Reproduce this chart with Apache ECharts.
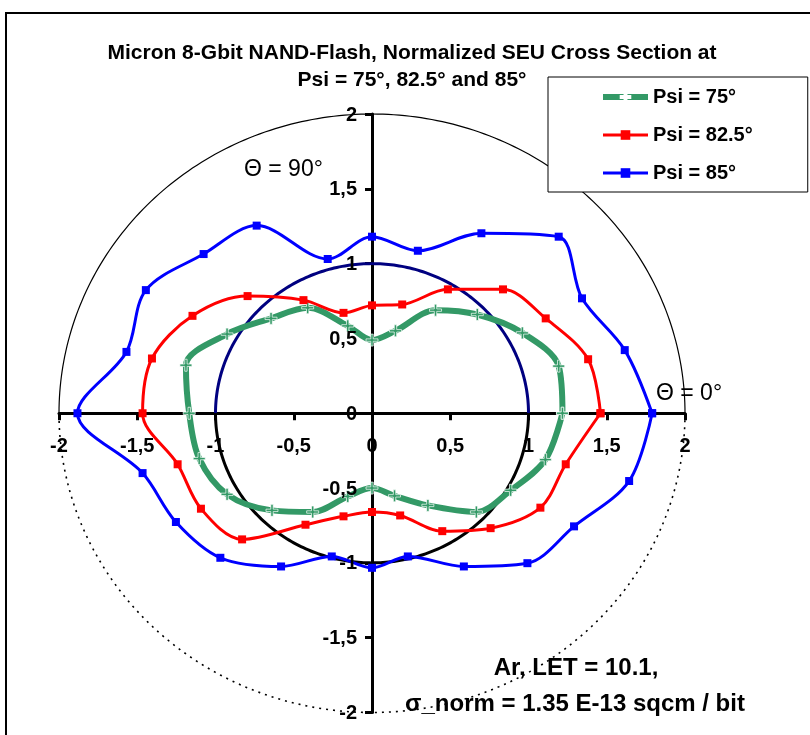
<!DOCTYPE html>
<html>
<head>
<meta charset="utf-8">
<script src="https://cdn.jsdelivr.net/npm/echarts@6/dist/echarts.min.js"></script>
<style>
html,body{margin:0;padding:0;background:#fff;}
#c{width:810px;height:735px;}
</style>
</head>
<body>
<div id="c"></div>
<script>
// ---- data ----
const seriesNames = ['Psi = 75°', 'Psi = 82.5°', 'Psi = 85°'];

const psi75X = [1.217, 1.193, 0.961, 0.673, 0.406, 0.15, 0, -0.155, -0.411, -0.645, -0.926, -1.189, -1.168,
                -1.104, -0.926, -0.639, -0.379, -0.155, 0, 0.144, 0.357, 0.667, 0.886, 1.108, 1.217];
const psi75Y = [0, 0.315, 0.537, 0.66, 0.689, 0.551, 0.489, 0.584, 0.705, 0.634, 0.529, 0.321, 0,
                -0.303, -0.542, -0.649, -0.66, -0.556, -0.5, -0.552, -0.616, -0.66, -0.515, -0.31, 0];

const psi825X = [1.46, 1.381, 1.11, 0.837, 0.485, 0.193, 0, -0.182, -0.438, -0.795, -1.147, -1.406, -1.466,
                 -1.242, -1.093, -0.83, -0.425, -0.182, 0, 0.18, 0.449, 0.758, 1.076, 1.238, 1.46];
const psi825Y = [0, 0.361, 0.634, 0.828, 0.828, 0.727, 0.721, 0.671, 0.756, 0.783, 0.651, 0.366, 0,
                 -0.341, -0.638, -0.843, -0.745, -0.689, -0.66, -0.683, -0.788, -0.768, -0.631, -0.341, 0];

const psi85X = [1.79, 1.615, 1.342, 1.193, 0.699, 0.293, 0, -0.283, -0.737, -1.076, -1.445, -1.569, -1.882,
                -1.466, -1.253, -0.969, -0.581, -0.257, 0, 0.229, 0.587, 0.993, 1.291, 1.643, 1.79];
const psi85Y = [0, 0.422, 0.768, 1.18, 1.203, 1.086, 1.18, 1.031, 1.254, 1.064, 0.823, 0.41, 0,
                -0.4, -0.727, -0.966, -1.024, -0.957, -1.033, -0.957, -1.024, -1.002, -0.756, -0.453, 0];

// reference circles: radius and half (1 = upper, -1 = lower)
const circleRadius = [1, 1, 2, 2];
const circleHalf = [1, -1, 1, -1];

const tickValues = [-2, -1.5, -1, -0.5, 0, 0.5, 1, 1.5, 2];
const tickLabels = ['-2', '-1,5', '-1', '-0,5', '0', '0,5', '1', '1,5', '2'];

// ---- styles ----
const FONT = 'Liberation Sans, Arial, Helvetica, sans-serif';
const circleStyles = [
  {stroke: '#000080', lineWidth: 3},
  {stroke: '#000000', lineWidth: 3},
  {stroke: '#000000', lineWidth: 1.2},
  {stroke: '#000000', lineWidth: 1.6, lineDash: [2, 5]}
];

function pairs(xs, ys) { return xs.map((x, i) => [x, ys[i]]); }

const circleSeries = circleRadius.map((r, k) => ({
  type: 'custom',
  coordinateSystem: 'cartesian2d',
  silent: true,
  z: 1,
  data: [[r, circleHalf[k]]],
  renderItem: function (params, api) {
    const rad = api.value(0), s = api.value(1);
    const pts = [];
    for (let a = 0; a <= 180; a += 1) {
      const t = a * Math.PI / 180;
      pts.push(api.coord([rad * Math.cos(t), s * rad * Math.sin(t)]));
    }
    return {
      type: 'polyline',
      shape: {points: pts},
      style: Object.assign({fill: null}, circleStyles[k])
    };
  }
}));

// tick labels placed beside the axes that cross at the origin (positioned through the axis scales)
function tickLabelSeries(onX) {
  return {
    type: 'custom',
    coordinateSystem: 'cartesian2d',
    silent: true,
    z: 6,
    data: tickValues.map(v => onX ? [v, 0] : [0, v]),
    renderItem: function (params, api) {
      const p = api.coord([api.value(0), api.value(1)]);
      return {
        type: 'text',
        x: onX ? p[0] : p[0] - 15,
        y: onX ? p[1] + 33 : p[1] + 1,
        style: {
          text: tickLabels[params.dataIndex],
          fill: '#000000',
          font: 'bold 20px ' + FONT,
          align: onX ? 'center' : 'right',
          verticalAlign: 'middle'
        }
      };
    }
  };
}

const plusPath = 'path://M4,0H6V4H10V6H6V10H4V6H0V4H4Z';

const chart = echarts.init(document.getElementById('c'), null, {renderer: 'canvas'});
chart.setOption({
  animation: false,
  backgroundColor: '#ffffff',
  title: {
    text: 'Micron 8-Gbit NAND-Flash, Normalized SEU Cross Section at\nPsi = 75°, 82.5° and 85°',
    left: 412,
    top: 40,
    textAlign: 'center',
    padding: 0,
    textStyle: {fontFamily: FONT, fontSize: 21, fontWeight: 'bold', color: '#000', lineHeight: 27}
  },
  legend: {
    data: [
      {name: seriesNames[0], lineStyle: {width: 6, color: '#339966'}},
      {name: seriesNames[1], lineStyle: {width: 3, color: '#FF0000'}},
      {name: seriesNames[2], lineStyle: {width: 3, color: '#0000FF'}}
    ],
    orient: 'vertical',
    left: 548,
    top: 77,
    padding: [10, 55, 9, 52],
    itemGap: 18,
    itemWidth: 45,
    itemHeight: 12,
    backgroundColor: '#ffffff',
    borderColor: '#000000',
    borderWidth: 1,
    borderRadius: 0,
    textStyle: {fontFamily: FONT, fontSize: 20, fontWeight: 'bold', color: '#000'}
  },
  grid: {left: 59, right: 125, top: 114, bottom: 22.5, containLabel: false, outerBoundsMode: 'none'},
  xAxis: {
    type: 'value', min: -2, max: 2, interval: 0.5,
    axisLine: {show: true, onZero: true, lineStyle: {color: '#000', width: 3}},
    axisTick: {show: true, length: 7, lineStyle: {color: '#000', width: 3}},
    axisLabel: {show: false},
    splitLine: {show: false}
  },
  yAxis: {
    type: 'value', min: -2, max: 2, interval: 0.5,
    axisLine: {show: true, onZero: true, lineStyle: {color: '#000', width: 3}},
    axisTick: {show: true, length: 7, lineStyle: {color: '#000', width: 3}},
    axisLabel: {show: false},
    splitLine: {show: false}
  },
  graphic: [
    {type: 'rect', z: 100, silent: true, shape: {x: 6, y: 13, width: 900, height: 900},
      style: {fill: null, stroke: '#000', lineWidth: 2}},
    {type: 'text', z: 50, left: 244, top: 158,
      style: {text: 'Θ = 90°', font: '23px ' + FONT, fill: '#000'}},
    {type: 'text', z: 50, left: 656, top: 382,
      style: {text: 'Θ = 0°', font: '23px ' + FONT, fill: '#000'}},
    {type: 'text', z: 50, x: 576, y: 668,
      style: {text: 'Ar, LET = 10.1,', font: 'bold 24px ' + FONT, fill: '#000', textAlign: 'center', textVerticalAlign: 'middle'}},
    {type: 'text', z: 50, x: 575, y: 704,
      style: {text: 'σ_norm = 1.35 E-13 sqcm / bit', font: 'bold 24px ' + FONT, fill: '#000', textAlign: 'center', textVerticalAlign: 'middle'}}
  ],
  series: circleSeries.concat([
    {
      name: seriesNames[0], type: 'line', z: 3,
      data: pairs(psi75X, psi75Y),
      smooth: 0.33,
      symbol: plusPath, symbolSize: 12,
      lineStyle: {color: '#339966', width: 6},
      itemStyle: {color: '#339966', borderColor: '#ffffff', borderWidth: 0.7}
    },
    {
      name: seriesNames[1], type: 'line', z: 4,
      data: pairs(psi825X, psi825Y),
      smooth: 0.33,
      symbol: 'rect', symbolSize: 8,
      lineStyle: {color: '#FF0000', width: 3},
      itemStyle: {color: '#FF0000'}
    },
    {
      name: seriesNames[2], type: 'line', z: 5,
      data: pairs(psi85X, psi85Y),
      smooth: 0.33,
      symbol: 'rect', symbolSize: 8,
      lineStyle: {color: '#0000FF', width: 3},
      itemStyle: {color: '#0000FF'}
    }
  ], [tickLabelSeries(true), tickLabelSeries(false)])
});
</script>
</body>
</html>
